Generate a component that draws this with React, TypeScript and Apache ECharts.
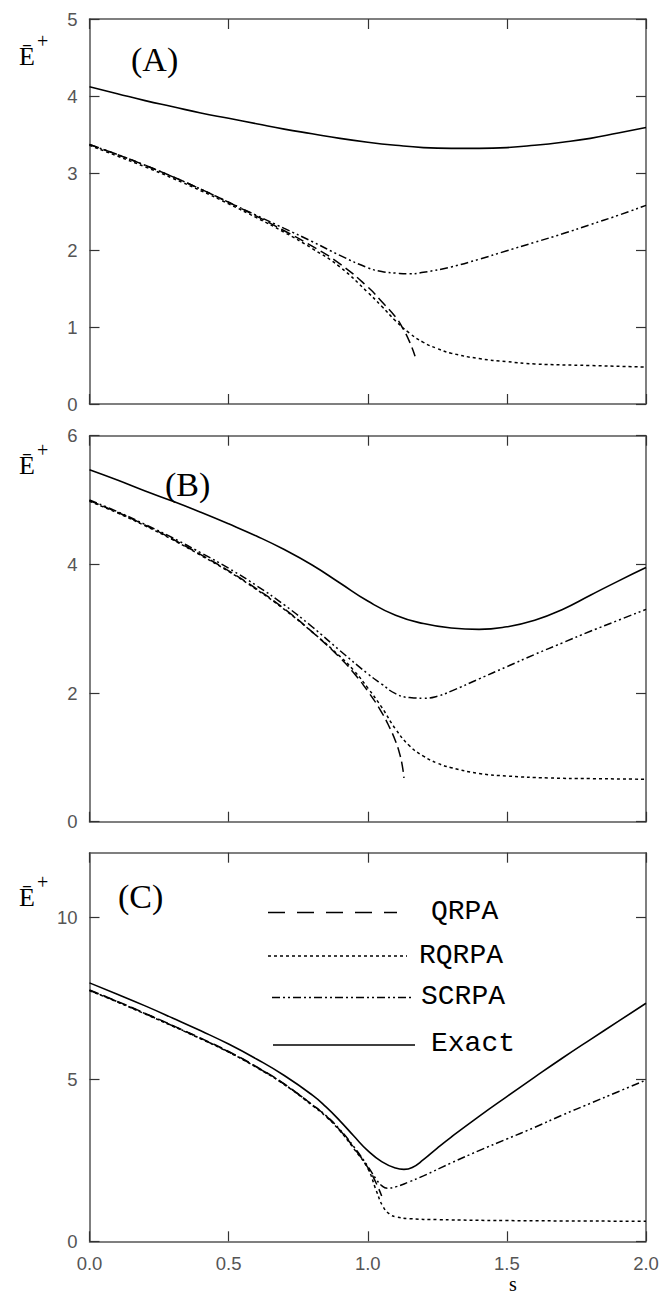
import React, { useEffect, useRef } from 'react';
import * as echarts from 'echarts';

// ---------- Panel A ----------
const exactA_s = [0, 0.1, 0.2, 0.3, 0.4, 0.5, 0.6, 0.7, 0.8, 0.9, 1.0, 1.1, 1.2, 1.3, 1.4, 1.5, 1.6, 1.7, 1.8, 1.9, 2.0];
const exactA_E = [4.12, 4.03, 3.94, 3.86, 3.78, 3.71, 3.64, 3.57, 3.51, 3.45, 3.40, 3.36, 3.33, 3.32, 3.32, 3.33, 3.36, 3.40, 3.45, 3.52, 3.59];
const scrpaA_s = [0, 0.1, 0.2, 0.3, 0.4, 0.5, 0.6, 0.7, 0.8, 0.9, 1.0, 1.05, 1.1, 1.15, 1.2, 1.3, 1.4, 1.5, 1.6, 1.7, 1.8, 1.9, 2.0];
const scrpaA_E = [3.37, 3.24, 3.10, 2.95, 2.79, 2.62, 2.45, 2.28, 2.11, 1.93, 1.77, 1.72, 1.70, 1.69, 1.71, 1.78, 1.88, 1.99, 2.10, 2.21, 2.33, 2.45, 2.58];
const rqrpaA_s = [0, 0.1, 0.2, 0.3, 0.4, 0.5, 0.6, 0.7, 0.8, 0.9, 1.0, 1.05, 1.1, 1.15, 1.2, 1.25, 1.3, 1.4, 1.5, 1.6, 1.8, 2.0];
const rqrpaA_E = [3.36, 3.22, 3.08, 2.93, 2.77, 2.60, 2.42, 2.23, 2.02, 1.78, 1.45, 1.27, 1.08, 0.92, 0.80, 0.72, 0.66, 0.59, 0.55, 0.52, 0.50, 0.48];
const qrpaA_s = [0, 0.1, 0.2, 0.3, 0.4, 0.5, 0.6, 0.7, 0.8, 0.9, 1.0, 1.05, 1.1, 1.125, 1.15, 1.17];
const qrpaA_E = [3.37, 3.24, 3.10, 2.95, 2.79, 2.62, 2.44, 2.25, 2.05, 1.82, 1.52, 1.33, 1.13, 0.99, 0.81, 0.62];

// ---------- Panel B ----------
const exactB_s = [0, 0.1, 0.2, 0.3, 0.4, 0.5, 0.6, 0.7, 0.8, 0.9, 1.0, 1.1, 1.2, 1.3, 1.4, 1.5, 1.6, 1.7, 1.8, 1.9, 2.0];
const exactB_E = [5.47, 5.31, 5.14, 4.98, 4.81, 4.63, 4.44, 4.23, 3.99, 3.71, 3.43, 3.21, 3.08, 3.01, 2.99, 3.03, 3.13, 3.30, 3.52, 3.74, 3.95];
const scrpaB_s = [0, 0.1, 0.2, 0.3, 0.4, 0.5, 0.6, 0.7, 0.8, 0.9, 1.0, 1.05, 1.1, 1.15, 1.2, 1.25, 1.3, 1.4, 1.5, 1.6, 1.7, 1.8, 1.9, 2.0];
const scrpaB_E = [5.0, 4.82, 4.62, 4.41, 4.18, 3.94, 3.67, 3.37, 3.03, 2.66, 2.30, 2.14, 1.99, 1.93, 1.92, 1.95, 2.03, 2.22, 2.41, 2.60, 2.78, 2.96, 3.13, 3.30];
const rqrpaB_s = [0, 0.1, 0.2, 0.3, 0.4, 0.5, 0.6, 0.7, 0.8, 0.9, 0.95, 1.0, 1.05, 1.1, 1.15, 1.2, 1.25, 1.3, 1.4, 1.5, 1.65, 1.8, 2.0];
const rqrpaB_E = [4.98, 4.80, 4.60, 4.38, 4.14, 3.89, 3.61, 3.30, 2.95, 2.57, 2.35, 2.08, 1.78, 1.44, 1.18, 1.02, 0.91, 0.84, 0.75, 0.71, 0.68, 0.67, 0.66];
const qrpaB_s = [0, 0.1, 0.2, 0.3, 0.4, 0.5, 0.6, 0.7, 0.8, 0.9, 0.95, 1.0, 1.05, 1.08, 1.1, 1.115, 1.125, 1.13];
const qrpaB_E = [4.99, 4.81, 4.61, 4.39, 4.15, 3.90, 3.62, 3.31, 2.95, 2.55, 2.31, 2.03, 1.70, 1.45, 1.25, 1.05, 0.85, 0.68];

// ---------- Panel C ----------
const exactC_s = [0, 0.1, 0.2, 0.3, 0.4, 0.5, 0.6, 0.7, 0.8, 0.85, 0.9, 0.95, 1.0, 1.05, 1.1, 1.13, 1.16, 1.2, 1.25, 1.3, 1.4, 1.5, 1.6, 1.7, 1.8, 1.9, 2.0];
const exactC_E = [7.98, 7.63, 7.27, 6.89, 6.50, 6.09, 5.63, 5.12, 4.52, 4.15, 3.72, 3.25, 2.80, 2.46, 2.26, 2.22, 2.28, 2.52, 2.88, 3.22, 3.86, 4.47, 5.07, 5.66, 6.23, 6.79, 7.35];
const scrpaC_s = [0, 0.1, 0.2, 0.3, 0.4, 0.5, 0.6, 0.7, 0.8, 0.85, 0.9, 0.95, 1.0, 1.03, 1.05, 1.07, 1.1, 1.15, 1.2, 1.3, 1.4, 1.5, 1.6, 1.7, 1.8, 1.9, 2.0];
const scrpaC_E = [7.75, 7.40, 7.03, 6.65, 6.26, 5.85, 5.38, 4.85, 4.22, 3.88, 3.45, 2.92, 2.32, 1.92, 1.72, 1.64, 1.68, 1.84, 2.02, 2.42, 2.80, 3.16, 3.52, 3.90, 4.26, 4.62, 4.98];
const rqrpaC_s = [0, 0.1, 0.2, 0.3, 0.4, 0.5, 0.6, 0.7, 0.8, 0.85, 0.9, 0.95, 1.0, 1.03, 1.055, 1.08, 1.1, 1.15, 1.25, 1.5, 2.0];
const rqrpaC_E = [7.74, 7.39, 7.02, 6.64, 6.25, 5.84, 5.37, 4.84, 4.20, 3.85, 3.41, 2.86, 2.25, 1.58, 1.07, 0.83, 0.76, 0.70, 0.67, 0.64, 0.62];
const qrpaC_s = [0, 0.1, 0.2, 0.3, 0.4, 0.5, 0.6, 0.7, 0.8, 0.85, 0.9, 0.95, 1.0, 1.03, 1.05];
const qrpaC_E = [7.76, 7.41, 7.04, 6.66, 6.27, 5.86, 5.39, 4.86, 4.22, 3.87, 3.43, 2.89, 2.28, 1.80, 1.40];

// ---------- Axes / labels ----------
const xTicks = [0, 0.5, 1.0, 1.5, 2.0];
const yTicksA = [0, 1, 2, 3, 4, 5];
const yTicksB = [0, 2, 4, 6];
const yTicksC = [0, 5, 10];
const yMax = [5, 6, 12];
const panelLabels = ['(A)', '(B)', '(C)'];
const legendNames = ['QRPA', 'RQRPA', 'SCRPA', 'Exact'];
const xName = 's';

const zip = (s: number[], e: number[]) => s.map((v, i) => [v, e[i]]);

const GRIDS = [
  { left: 89.5, top: 19, width: 556.5, height: 385 },
  { left: 89.5, top: 435.7, width: 556.5, height: 386 },
  { left: 89.5, top: 852.7, width: 556.5, height: 388.6 },
];

const DASH: Record<string, any> = {
  QRPA: [10, 5],
  RQRPA: [3, 3],
  SCRPA: [8, 3, 2, 3, 2, 3],
  Exact: 'solid',
};

export default function App() {
  const ref = useRef<HTMLDivElement>(null);
  useEffect(() => {
    if (!ref.current) return;
    const chart = echarts.init(ref.current, undefined, { renderer: 'svg' });
    const axisLine = { show: true, onZero: false, lineStyle: { color: '#555', width: 1.5 } };
    const tick = { show: true, inside: true, length: 10, lineStyle: { color: '#333', width: 1.2 } };
    const labelStyle = { color: '#555', fontSize: 18.5, fontFamily: 'Liberation Sans, Arial, sans-serif' };
    const yTicksList = [yTicksA, yTicksB, yTicksC];

    const xAxis: any[] = [];
    const yAxis: any[] = [];
    GRIDS.forEach((_, g) => {
      ['bottom', 'top'].forEach((pos) => {
        xAxis.push({
          type: 'value', gridIndex: g, position: pos, min: 0, max: 2, interval: 0.5,
          axisLine, axisTick: tick, splitLine: { show: false },
          axisLabel: {
            show: g === 2 && pos === 'bottom', margin: 13, ...labelStyle,
            formatter: (v: number) => v.toFixed(1),
            customValues: xTicks,
          },
        });
      });
      ['left', 'right'].forEach((pos) => {
        yAxis.push({
          type: 'value', gridIndex: g, position: pos, min: 0, max: yMax[g],
          axisLine, splitLine: { show: false },
          axisTick: { ...tick, customValues: yTicksList[g] },
          axisLabel: { show: pos === 'left', margin: 12, ...labelStyle, customValues: yTicksList[g] },
        });
      });
    });

    const data = [
      { QRPA: zip(qrpaA_s, qrpaA_E), RQRPA: zip(rqrpaA_s, rqrpaA_E), SCRPA: zip(scrpaA_s, scrpaA_E), Exact: zip(exactA_s, exactA_E) },
      { QRPA: zip(qrpaB_s, qrpaB_E), RQRPA: zip(rqrpaB_s, rqrpaB_E), SCRPA: zip(scrpaB_s, scrpaB_E), Exact: zip(exactB_s, exactB_E) },
      { QRPA: zip(qrpaC_s, qrpaC_E), RQRPA: zip(rqrpaC_s, rqrpaC_E), SCRPA: zip(scrpaC_s, scrpaC_E), Exact: zip(exactC_s, exactC_E) },
    ];
    const series: any[] = [];
    data.forEach((d: any, g) => {
      legendNames.forEach((name) => {
        series.push({
          type: 'line', name, xAxisIndex: 2 * g, yAxisIndex: 2 * g,
          data: d[name], showSymbol: false, symbol: 'none',
          smooth: 0.5,
          lineStyle: { color: '#000', width: name === 'Exact' ? 1.6 : 1.5, type: DASH[name] },
          silent: true,
        });
      });
    });

    const graphic: any[] = [];
    const serif = 'Liberation Serif, Times New Roman, serif';
    // y-axis titles
    const eY = [61, 470, 902];
    eY.forEach((y) => {
      graphic.push({ type: 'text', left: 19, top: y - 18, style: { text: '\u0112', font: `26px ${serif}`, fill: '#000' } });
      graphic.push({ type: 'text', left: 37, top: y - 30, style: { text: '+', font: `20px ${serif}`, fill: '#000' } });
    });
    // panel labels
    const pl = [[131, 42], [165, 467], [118, 879]];
    panelLabels.forEach((t, i) => {
      graphic.push({ type: 'text', left: pl[i][0], top: pl[i][1], style: { text: t, font: `34px ${serif}`, fill: '#000' } });
    });
    // x axis name
    graphic.push({ type: 'text', left: 509, top: 1274, style: { text: xName, font: `20px ${serif}`, fill: '#000' } });
    // legend
    const legendRows = [
      { name: 'QRPA', y: 912.5, x1: 268, x2: 397, tx: 431, dash: [17, 12] },
      { name: 'RQRPA', y: 956, x1: 268, x2: 407, tx: 419, dash: [3, 3] },
      { name: 'SCRPA', y: 997.5, x1: 272, x2: 413, tx: 421, dash: [8, 3, 2, 3, 2, 3] },
      { name: 'Exact', y: 1045, x1: 273, x2: 415, tx: 431, dash: null },
    ];
    legendRows.forEach((r) => {
      graphic.push({
        type: 'line', shape: { x1: r.x1, y1: r.y, x2: r.x2, y2: r.y },
        style: { stroke: '#000', lineWidth: 1.6, lineDash: r.dash || undefined },
      });
      graphic.push({
        type: 'text', x: r.tx, y: r.y - (r.name === 'Exact' ? 2 : 1),
        style: { text: r.name, font: `28px Liberation Mono, Courier New, monospace`, fill: '#000', verticalAlign: 'middle', textAlign: 'left' },
      });
    });

    chart.setOption({
      animation: false,
      backgroundColor: '#fff',
      grid: GRIDS.map((g) => ({ ...g, containLabel: false })),
      xAxis, yAxis, series, graphic,
    });
    return () => chart.dispose();
  }, []);
  return <div ref={ref} style={{ position: 'absolute', left: 0, top: 0, width: 665, height: 1295 }} />;
}
